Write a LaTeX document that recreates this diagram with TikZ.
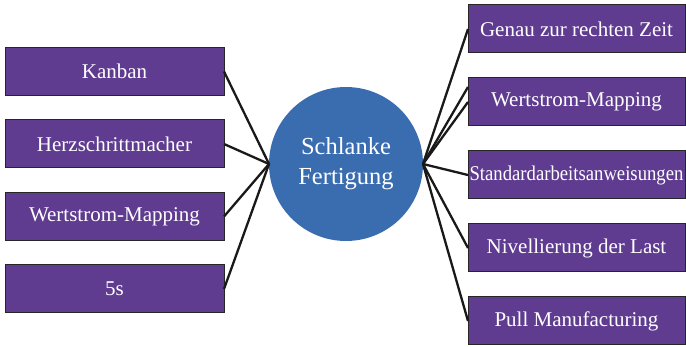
\documentclass[tikz,border=0pt]{standalone}
\usepackage{fontspec}
\setmainfont{Liberation Serif}
\usetikzlibrary{positioning}
\definecolor{boxpurple}{RGB}{96,60,145}
\definecolor{hubblue}{RGB}{58,108,176}
\tikzset{
	every node/.style={align=center},
	%
	block/.style={
		draw=black!85, line width=1pt, fill=boxpurple, text=white,
		minimum height=48pt, inner sep=0pt, outer sep=0pt,
		font=\fontsize{21}{25}\selectfont},
	left block/.style={block, minimum width=219pt},
	right block/.style={block, minimum width=217pt},
	hub/.style={circle, fill=hubblue, text=white, minimum size=154pt,
		inner sep=0pt, outer sep=0pt, font=\fontsize{24.5}{30}\selectfont},
}

\begin{document}
\begin{tikzpicture}[
			x=1pt, y=-1pt,
			link/.style={draw=black!90, line width=2.3pt},
		]
		\useasboundingbox (0,0) rectangle (686,347);
		\node (fertigung) [hub] at (346,164) {Schlanke\\Fertigung};
		%
		\node (kanban) [left block] at (114.5,71.5) {Kanban};
		\node (herz) [left block, below=24.5pt of kanban] {Herzschrittmacher};
		\node (wert-l) [left block, below=24.5pt of herz] {Wertstrom-Mapping};
		\node (fuenf-s) [left block, below=24.5pt of wert-l] {5s};
		%
		\node (genau) [right block] at (576.5,29) {Genau zur rechten Zeit};
		\node (wert-r) [right block, below=25pt of genau] {Wertstrom-Mapping};
		\node (standard) [right block, below=25pt of wert-r]
			{\scalebox{0.89}[1]{Standardarbeitsanweisungen}};
		\node (nivell) [right block, below=25pt of standard] {Nivellierung der Last};
		\node (pull) [right block, below=25pt of nivell] {Pull Manufacturing};
		%
		\foreach \n in {kanban, herz, wert-l, fuenf-s}
			\draw [link] (\n.east) -- (fertigung.west);
		\foreach \n in {genau, wert-r, standard, nivell, pull}
			\draw [link] (fertigung.east) -- (\n.west);
		\draw [link] (fertigung.east) -- ([yshift=15pt]wert-r.west);
	\end{tikzpicture}
\end{document}
